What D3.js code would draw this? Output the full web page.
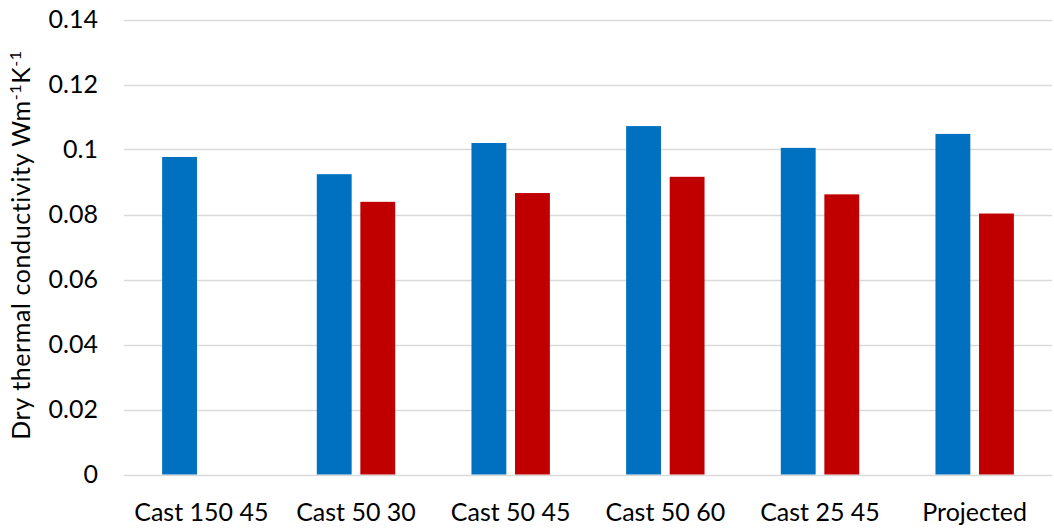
<!DOCTYPE html>
<html>
<head>
<meta charset="utf-8">
<script src="https://cdn.jsdelivr.net/npm/d3@7"></script>
<style>
  html, body { margin: 0; padding: 0; background: #fff; }
  svg { display: block; }
  text { font-family: Lato, "Open Sans", "Liberation Sans", sans-serif; fill: #000; }
</style>
</head>
<body>
<svg id="chart" width="1054" height="529"></svg>
<script>
const categories = ["Cast 150 45", "Cast 50 30", "Cast 50 45", "Cast 50 60", "Cast 25 45", "Projected"];
const seriesNames = ["series1", "series2"];
const series1 = [0.0977, 0.0924, 0.1020, 0.1072, 0.1005, 0.1048];
const series2 = [null, 0.0839, 0.0866, 0.0916, 0.0862, 0.0803];
const yTicks = [0, 0.02, 0.04, 0.06, 0.08, 0.1, 0.12, 0.14];
const colors = ["#0070C0", "#C00000"];

(function () {
const svg = d3.select("#chart");
const plotLeft = 124, plotRight = 1052, plotTop = 19.5, plotBottom = 474.5;

const x0 = d3.scaleBand().domain(categories).range([plotLeft, plotRight]).padding(0);
const bw = x0.bandwidth();
const x1 = d3.scaleBand().domain(seriesNames).range([bw / 2 - 39.2, bw / 2 + 39.2]).paddingInner(0.2);
const y = d3.scaleLinear().domain([0, 0.14]).range([plotBottom, plotTop]);

// gridlines
svg.append("g").selectAll("line").data(yTicks).join("line")
  .attr("x1", plotLeft).attr("x2", plotRight)
  .attr("y1", d => Math.round(y(d)) + 0.5).attr("y2", d => Math.round(y(d)) + 0.5)
  .attr("stroke", "#d9d9d9").attr("stroke-width", 1.3);

// y axis labels
const yAxis = d3.axisLeft(y).tickValues(yTicks).tickSize(0).tickPadding(26)
  .tickFormat(d => d === 0 ? "0" : String(+d.toFixed(2)));
const gy = svg.append("g").attr("transform", `translate(${plotLeft},0)`).call(yAxis);
gy.select(".domain").remove();
gy.selectAll("text").style("font-family", "Lato, 'Open Sans', sans-serif").style("font-size", "25px").attr("fill", "#000");

// bars
const data = [series1, series2];
data.forEach((vals, si) => {
  svg.append("g").selectAll("rect")
    .data(vals.map((v, i) => ({ v, c: categories[i] })).filter(d => d.v != null))
    .join("rect")
    .attr("x", d => x0(d.c) + x1(seriesNames[si]))
    .attr("width", x1.bandwidth())
    .attr("y", d => y(d.v))
    .attr("height", d => y(0) - y(d.v))
    .attr("fill", colors[si]);
});

// x axis
const xAxis = d3.axisBottom(x0).tickSize(0).tickPadding(29);
const gx = svg.append("g").attr("transform", `translate(0,${plotBottom})`).call(xAxis);
gx.select(".domain").remove();
gx.selectAll("text").style("font-family", "Lato, 'Open Sans', sans-serif").style("font-size", "25px").attr("fill", "#000");

// y axis title
const title = svg.append("text")
  .attr("transform", `translate(30,245) rotate(-90)`)
  .attr("text-anchor", "middle")
  .style("font-size", "25px")
  .style("letter-spacing", "0.6px");
title.append("tspan").text("Dry thermal conductivity Wm");
title.append("tspan").attr("dy", -9).style("font-size", "16px").text("-1");
title.append("tspan").attr("dy", 9).text("K");
title.append("tspan").attr("dy", -9).style("font-size", "16px").text("-1");
})();
</script>
</body>
</html>
